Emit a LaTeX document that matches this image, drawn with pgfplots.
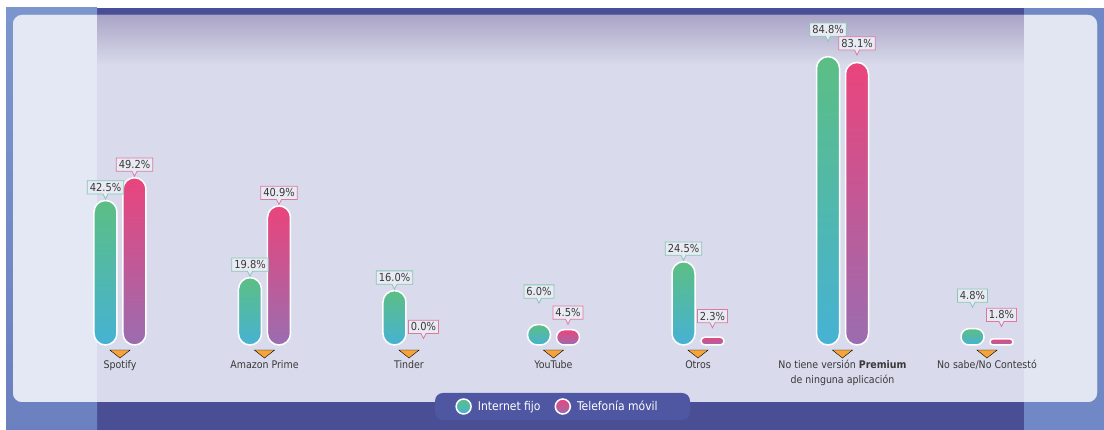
\documentclass[border=0pt]{standalone}
\usepackage{pgfplots}
\usepackage{pgfplotstable}
\pgfplotsset{compat=1.18}
\usepackage{fontspec}
\setmainfont{DejaVu Sans Condensed}
\usetikzlibrary{shapes.callouts}
\definecolor{bgdark}{HTML}{4A4F95}
\definecolor{bgLa}{HTML}{7B96CD}
\definecolor{bgLb}{HTML}{6B80BE}
\definecolor{bgR}{HTML}{7089C6}
\definecolor{panelM}{HTML}{D9DBEC}
\definecolor{panelL}{HTML}{E3E8F4}
\definecolor{panelR}{HTML}{E1E6F2}
\definecolor{panelTop}{HTML}{AAA4C6}
\definecolor{legendbg}{HTML}{4F57A3}
\definecolor{boxfill}{HTML}{E9EBF4}
\definecolor{gBorder}{HTML}{86C6B4}
\definecolor{pBorder}{HTML}{DE78A0}
\definecolor{txt}{HTML}{383838}
\definecolor{orangeT}{HTML}{F4A43A}
\definecolor{gTop}{HTML}{5CBE84}
\definecolor{gBot}{HTML}{46B2D4}
\definecolor{pTop}{HTML}{EA447C}
\definecolor{pBot}{HTML}{9A6DB0}
% value labels: x, value, extra lift of the label (pt) to avoid overlaps
\pgfplotstableread{
x y dy
0 42.5 0
1 19.8 0
2 16.0 0
3 6.0 20
4 24.5 0
5 84.8 14
6 4.8 20
}\fijo
\pgfplotstableread{
x y dy
0 49.2 0
1 40.9 0
2 0.0 5
3 4.5 4
4 2.3 8
5 83.1 6
6 1.8 11
}\movil
\pgfplotsset{
  gbar/.style={ybar, bar width=23pt, bar shift=-14.5pt, draw=white, line width=1.5pt,
    top color=gTop, bottom color=gBot, forget plot},
  pbar/.style={ybar, bar width=23pt, bar shift=14.5pt, draw=white, line width=1.5pt,
    top color=pTop, bottom color=pBot, forget plot},
  vlabel/.style={draw=none, mark=none, forget plot, point meta=y,
    visualization depends on={\thisrow{dy} \as \dy},
    nodes near coords={\pgfmathprintnumber[fixed,fixed zerofill,precision=1]{\pgfplotspointmeta}\%},
    every node near coord/.style={rectangle callout, callout relative pointer={(0pt,-5pt)}, callout pointer width=5pt,
      draw=#1, fill=boxfill, line width=0.8pt, inner xsep=2.5pt, inner ysep=2.5pt, text=txt,
      font=\fontsize{11}{11}\selectfont, anchor=south, yshift=6pt, yshift=\dy pt}},
}
\begin{document}
\begin{tikzpicture}[x=1pt,y=1pt]
\useasboundingbox (0,0) rectangle (1104,430);
\fill[white] (0,0) rectangle (1104,430);
\fill[bgdark] (6,0) rectangle (1104,422);
\shade[top color=bgLa, bottom color=bgLb] (6,0) rectangle (97,422);
\fill[bgR] (1024,0) rectangle (1104,422);
\begin{scope}
\clip[rounded corners=9pt] (13,28) rectangle (1097,415);
\fill[panelM] (0,0) rectangle (1104,430);
\shade[top color=panelTop, bottom color=panelM] (97,365) rectangle (1024,415);
\fill[panelL] (0,0) rectangle (97,430);
\fill[panelR] (1024,0) rectangle (1104,430);
\end{scope}
\fill[legendbg, rounded corners=8pt] (435,10) rectangle (690,37);
\begin{axis}[
  at={(0pt,85pt)}, anchor=south west, scale only axis,
  width=1104pt, height=340pt,
  xmin=-0.8304, xmax=6.8097, ymin=0, ymax=100,
  clip=false,
  /pgf/number format/assume math mode=true,
  axis line style={draw=none}, tick style={draw=none},
  ytick=\empty,
  xtick={0,1,2,3,4,5,6},
  xticklabels={Spotify, Amazon Prime, Tinder, YouTube, Otros, {No tiene versión \textbf{Premium}\\de ninguna aplicación}, No sabe/No Contestó},
  xticklabel style={anchor=north, yshift=-12pt, align=center, text=txt, font=\fontsize{10.5}{14.5}\selectfont},
  legend columns=2,
  legend cell align=left,
  legend style={at={(axis description cs:0.5050,-0.1809)}, anchor=center, draw=none, fill=none,
    font=\fontsize{12}{12}\selectfont, text=white,
    /tikz/every odd column/.append style={column sep=4pt},
    /tikz/every even column/.append style={column sep=12pt}},
]
% Internet fijo
\addplot[gbar, rounded corners=11.5pt] coordinates {(0,42.5)};
\addplot[gbar, rounded corners=11.5pt] coordinates {(1,19.8)};
\addplot[gbar, rounded corners=11.5pt] coordinates {(2,16.0)};
\addplot[gbar, rounded corners=10pt] coordinates {(3,6.0)};
\addplot[gbar, rounded corners=11.5pt] coordinates {(4,24.5)};
\addplot[gbar, rounded corners=11.5pt] coordinates {(5,84.8)};
\addplot[gbar, rounded corners=8pt] coordinates {(6,4.8)};
% Telefonia movil
\addplot[pbar, rounded corners=11.5pt] coordinates {(0,49.2)};
\addplot[pbar, rounded corners=11.5pt] coordinates {(1,40.9)};
\addplot[pbar, rounded corners=7.5pt] coordinates {(3,4.5)};
\addplot[pbar, rounded corners=3.8pt] coordinates {(4,2.3)};
\addplot[pbar, rounded corners=11.5pt] coordinates {(5,83.1)};
\addplot[pbar, rounded corners=3pt] coordinates {(6,1.8)};
% value labels
\addplot[vlabel=gBorder, every node near coord/.append style={xshift=-14.5pt}] table[x=x,y=y] {\fijo};
\addplot[vlabel=pBorder, every node near coord/.append style={xshift=14.5pt}] table[x=x,y=y] {\movil};
% category markers
\addplot[only marks, mark=triangle*, mark size=6.5pt,
  mark options={rotate=180, xscale=1.8, yscale=0.82, fill=orangeT, draw=none}, forget plot]
  coordinates {(0,-2.26) (1,-2.26) (2,-2.26) (3,-2.26) (4,-2.26) (5,-2.26) (6,-2.26)};
\addlegendimage{legend image code/.code={\shade[draw=white, line width=1.5pt, top color=gTop, bottom color=gBot] (7.5pt,0pt) circle (7.5pt);}}
\addlegendentry{Internet fijo}
\addlegendimage{legend image code/.code={\shade[draw=white, line width=1.5pt, top color=pTop, bottom color=pBot] (7.5pt,0pt) circle (7.5pt);}}
\addlegendentry{Telefonía móvil}
\end{axis}
\end{tikzpicture}
\end{document}
